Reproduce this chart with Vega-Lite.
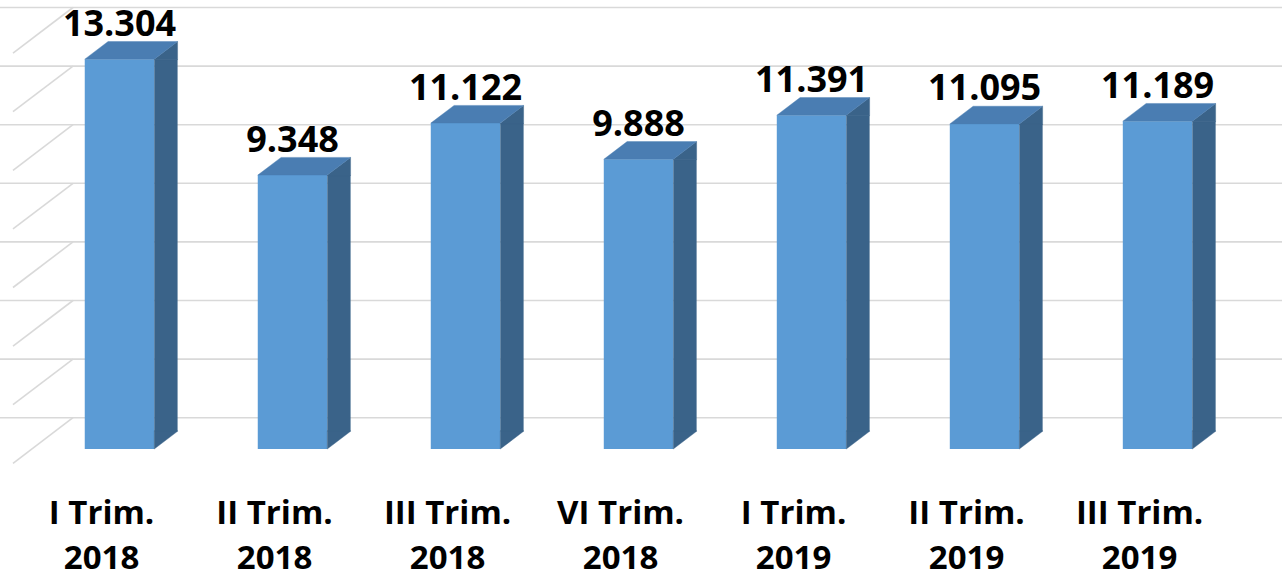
{
  "$schema": "https://vega.github.io/schema/vega-lite/v6.json",
  "width": 1282,
  "height": 449,
  "autosize": {"type": "none"},
  "padding": {"left": 0, "top": 0, "right": 0, "bottom": 125},
  "background": "white",
  "config": {
    "view": {"stroke": null},
    "locale": {"number": {"decimal": ",", "thousands": ".", "grouping": [3], "currency": ["", " €"]}}
  },
  "datasets": {
    "bars": [
      {"periodo": "I Trim. 2018", "valor": 13304},
      {"periodo": "II Trim. 2018", "valor": 9348},
      {"periodo": "III Trim. 2018", "valor": 11122},
      {"periodo": "VI Trim. 2018", "valor": 9888},
      {"periodo": "I Trim. 2019", "valor": 11391},
      {"periodo": "II Trim. 2019", "valor": 11095},
      {"periodo": "III Trim. 2019", "valor": 11189}
    ],
    "grid": [
      {"g": 0}, {"g": 2000}, {"g": 4000}, {"g": 6000},
      {"g": 8000}, {"g": 10000}, {"g": 12000}, {"g": 14000}
    ]
  },
  "layer": [
    {
      "data": {"name": "grid"},
      "mark": {"type": "rule", "color": "#d9d9d9", "strokeWidth": 1.6, "xOffset": 73, "yOffset": -31.3},
      "encoding": {
        "y": {"field": "g", "type": "quantitative", "scale": {"domain": [0, 15324], "nice": false, "zero": true}, "axis": null}
      }
    },
    {
      "data": {"name": "grid"},
      "mark": {"type": "rule", "color": "#d9d9d9", "strokeWidth": 1.6, "xOffset": 13, "x2Offset": 73, "yOffset": 14.3, "y2Offset": -31.3},
      "encoding": {
        "x": {"value": 0},
        "x2": {"value": 0},
        "y": {"field": "g", "type": "quantitative", "scale": {"domain": [0, 15324], "nice": false, "zero": true}, "axis": null},
        "y2": {"field": "g"}
      }
    },
    {
      "data": {"name": "bars"},
      "encoding": {
        "x": {
          "field": "periodo", "type": "nominal", "sort": null,
          "scale": {"paddingInner": 0.598, "paddingOuter": 0.504, "align": 0.486},
          "axis": {
            "title": null, "domain": false, "ticks": false, "tickSize": 0, "grid": false,
            "labelAngle": 0, "labelFont": "Open Sans", "labelFontWeight": "bold", "labelFontSize": 33,
            "labelColor": "#000000", "labelPadding": 74.3, "labelBaseline": "alphabetic",
            "labelLineHeight": 45.5, "labelOffset": -18, "labelLimit": 0,
            "labelExpr": "[substring(datum.label, 0, length(datum.label) - 5), substring(datum.label, length(datum.label) - 4)]"
          }
        }
      },
      "layer": [
        {
          "mark": {"type": "bar", "color": "#5B9BD5"},
          "encoding": {
            "y": {"field": "valor", "type": "quantitative", "stack": null, "scale": {"domain": [0, 15324], "nice": false, "zero": true}, "axis": null},
            "y2": {"datum": 0}
          }
        },
        {
          "mark": {"type": "bar", "color": "#3A6389", "width": 23.3, "xOffset": 46.4, "yOffset": 0, "y2Offset": -17.7},
          "encoding": {
            "y": {"field": "valor", "type": "quantitative", "stack": null, "scale": {"domain": [0, 15324], "nice": false, "zero": true}, "axis": null},
            "y2": {"datum": 0}
          }
        },
        {
          "mark": {"type": "point", "shape": "M-1,0.76L1,-0.76L1,0.8L-1,0.8Z", "size": 543, "filled": true, "opacity": 1, "color": "#3A6389", "stroke": "#3A6389", "strokeWidth": 0.4, "xOffset": 46.4, "yOffset": -8.85},
          "encoding": {
            "y": {"field": "valor", "type": "quantitative", "scale": {"domain": [0, 15324], "nice": false, "zero": true}, "axis": null}
          }
        },
        {
          "mark": {"type": "point", "shape": "M-1,-0.8L-1,0.76L1,-0.76L1,-0.8Z", "size": 543, "filled": true, "opacity": 1, "color": "#3A6389", "stroke": "#3A6389", "strokeWidth": 0.4, "xOffset": 46.4, "yOffset": -8.85},
          "encoding": {
            "y": {"datum": 0, "type": "quantitative", "scale": {"domain": [0, 15324], "nice": false, "zero": true}, "axis": null}
          }
        },
        {
          "mark": {"type": "point", "shape": "M-1,0.1907L0.498,0.1907L1,-0.1907L-0.498,-0.1907Z", "size": 8612, "filled": true, "opacity": 1, "color": "#4A7DB2", "stroke": "#4A7DB2", "strokeWidth": 0.4, "xOffset": 11.65, "yOffset": -8.85},
          "encoding": {
            "y": {"field": "valor", "type": "quantitative", "scale": {"domain": [0, 15324], "nice": false, "zero": true}, "axis": null}
          }
        },
        {
          "mark": {"type": "text", "font": "Open Sans", "fontWeight": "bold", "fontSize": 36, "color": "#000000", "baseline": "alphabetic", "align": "center", "dy": -23.5},
          "encoding": {
            "y": {"field": "valor", "type": "quantitative", "scale": {"domain": [0, 15324], "nice": false, "zero": true}, "axis": null},
            "text": {"field": "valor", "type": "quantitative", "format": ","}
          }
        }
      ]
    }
  ]
}
